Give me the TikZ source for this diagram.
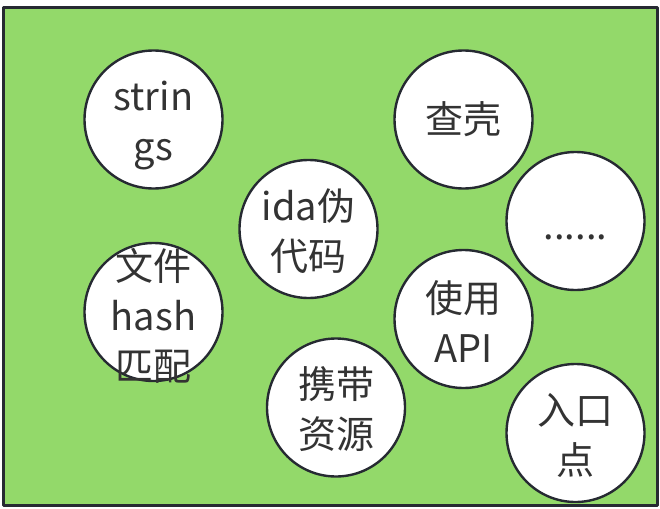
\documentclass[tikz,border=0pt]{standalone}
\usepackage{fontspec}
\setmainfont{Noto Sans CJK SC}
\definecolor{boardgreen}{RGB}{147,217,106}
\definecolor{edgegray}{RGB}{38,42,50}
\definecolor{inkgray}{RGB}{51,51,51}
\begin{document}
\begin{tikzpicture}[x=1pt,y=-1pt,line cap=round,line join=round,
  bubble/.style={circle,draw=edgegray,line width=2.4pt,fill=white,minimum size=138pt,inner sep=0pt},
  word/.style={align=center,text=inkgray,font=\fontsize{38}{50}\selectfont,inner sep=0pt}]
\useasboundingbox (0,0) rectangle (660,508);

% green board
\coordinate (B1) at (3.5,7.5);
\coordinate (B2) at (657,505);
\draw[draw=edgegray,line width=3pt,fill=boardgreen] (B1) rectangle (B2);

% left column
\node[bubble] (strings) at (153.5,119.5) {};
\node[word] at ([yshift=-6pt]strings.center) {strin\\gs};
\node[bubble] (hash) at (153.5,312) {};
\node[word] at ([yshift=-4pt]hash.center) {文件\\hash\\匹配};

% middle column
\node[bubble] (ida) at (308.5,229) {};
\node[word] at ([yshift=-2pt]ida.center) {ida伪\\代码};
\node[bubble] (res) at (336,407.5) {};
\node[word] at ([yshift=-2pt]res.center) {携带\\资源};

% right-middle column
\node[bubble] (shell) at (463.5,119.5) {};
\node[word] at (shell) {查壳};
\node[bubble] (api) at (463.5,319) {};
\node[word] at ([yshift=-2pt]api.center) {使用\\API};

% right column
\node[bubble] (more) at (575.5,221) {};
\node[word] at ([yshift=-16pt]more.center) {......};
\node[bubble] (entry) at (575.5,433) {};
\node[word] at ([yshift=-2pt]entry.center) {入口\\点};

\end{tikzpicture}
\end{document}
